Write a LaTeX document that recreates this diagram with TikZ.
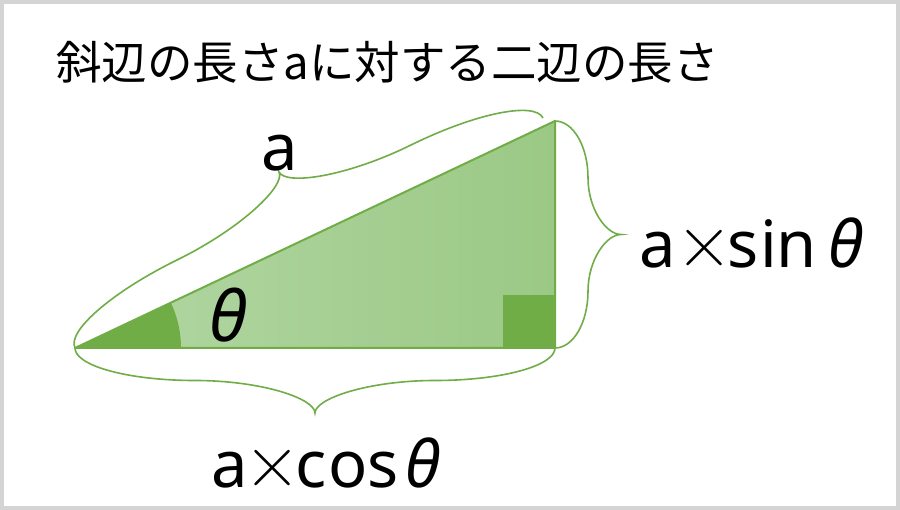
\documentclass[tikz,border=0pt]{standalone}
\usepackage{fontspec}
\setmainfont{Noto Sans}
\newfontfamily\cjkfont{Noto Sans CJK JP}
\newfontfamily\thetafont{Noto Sans}
\newfontfamily\lmr{Latin Modern Roman}
\definecolor{grn}{HTML}{70AD47}
\definecolor{lgl}{HTML}{B3D7A5}
\definecolor{lgr}{HTML}{9BC985}
\definecolor{bgray}{HTML}{D4D4D4}
\newcommand{\sbrace}[2]{%
  \draw[bracestyle] (0,0)
    .. controls (0,{-0.5523*#2/2}) and ({#1/4-0.5523*#1/4},{-#2/2}) .. ({#1/4},{-#2/2})
    .. controls ({#1/4+0.5523*#1/4},{-#2/2}) and ({#1/2},{-#2/2-0.5523*#2/2}) .. ({#1/2},{-#2})
    .. controls ({#1/2},{-#2/2-0.5523*#2/2}) and ({3*#1/4-0.5523*#1/4},{-#2/2}) .. ({3*#1/4},{-#2/2})
    .. controls ({3*#1/4+0.5523*#1/4},{-#2/2}) and ({#1},{-0.5523*#2/2}) .. ({#1},0);}
\newcommand{\thsym}{{\thetafont\itshape θ}}
\newcommand{\tms}{{\lmr\fontsize{78}{78}\selectfont ×}}
\begin{document}
\begin{tikzpicture}[x=1pt,y=-1pt,
  bracestyle/.style={draw=grn, line width=1.6pt},
  lbl/.style={inner sep=0pt, anchor=base west, font=\fontsize{65}{70}\selectfont}]
\useasboundingbox (0,0) rectangle (900,510);
\fill[bgray] (0,0) rectangle (900,510);
\fill[white] (4,4) rectangle (896,506);
\coordinate (A) at (75,348);
\coordinate (B) at (555,348);
\coordinate (C) at (555,121);
\shade[left color=lgl, right color=lgr] (A) -- (B) -- (C) -- cycle;
\begin{scope}
  \clip (A) -- (B) -- (C) -- cycle;
  \fill[grn] (A) circle[radius=106];
  \fill[grn] (503,295) rectangle (B);
\end{scope}
\draw[grn, line width=2pt, line join=round] (A) -- (B) -- (C) -- cycle;
\begin{scope}[shift={(A)}, rotate=26.17]
  \sbrace{521.5}{68}
\end{scope}
\begin{scope}[shift={(B)}, rotate=180]
  \sbrace{480}{65}
\end{scope}
\begin{scope}[shift={(C)}, rotate=-90]
  \sbrace{227}{66}
\end{scope}
\node[inner sep=0pt, anchor=base west, font=\cjkfont\fontsize{45.5}{50}\selectfont] (title) at (56,80) {斜辺の長さaに対する二辺の長さ};
\node[lbl] (la) at (261.5,171) {a};
\node[lbl] (lsin) at (639.5,268) {a\kern0pt\tms\kern-4.7pt s\kern1.6pt i\kern-0.5pt n\kern12pt\thsym};
\node[lbl] (lcos) at (211.5,487) {a\kern-4pt\tms\kern-5.3pt c\kern2pt o\kern0pt s\kern7pt\thsym};
\node[lbl, font=\fontsize{70}{70}\selectfont] (th) at (209,342) {\thsym};
\end{tikzpicture}
\end{document}
